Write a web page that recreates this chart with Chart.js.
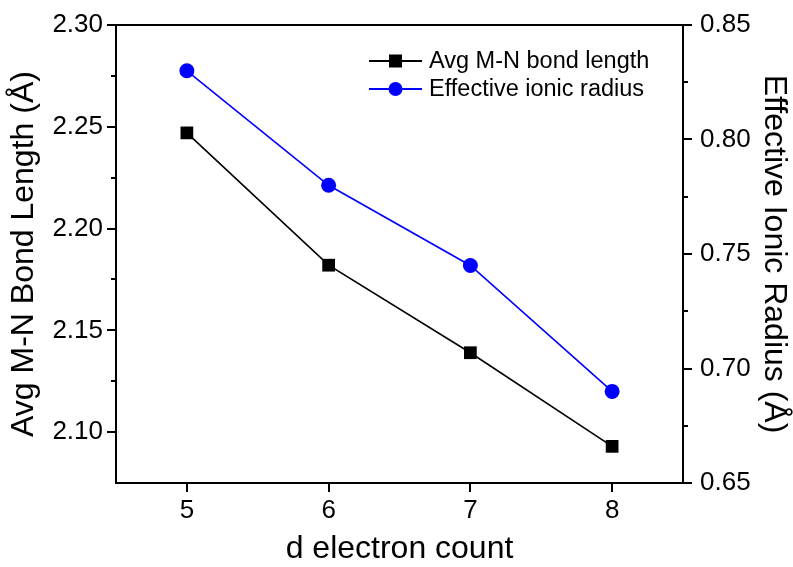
<!DOCTYPE html>
<html>
<head>
<meta charset="utf-8">
<script src="https://cdn.jsdelivr.net/npm/chart.js@4.4.0/dist/chart.umd.min.js"></script>
<style>
  html, body { margin: 0; padding: 0; background: #fff; }
  #wrap { width: 793px; height: 567px; }
</style>
</head>
<body>
<div id="wrap"><canvas id="chart" width="793" height="567"></canvas></div>
<script>
// data
const dCount = [5, 6, 7, 8];
const bondLength = [2.247, 2.182, 2.139, 2.093];
const ionicRadius = [0.830, 0.780, 0.745, 0.690];
const xTicks = [5, 6, 7, 8];
const bondTicks = [2.10, 2.15, 2.20, 2.25, 2.30];
const radiusTicks = [0.65, 0.70, 0.75, 0.80, 0.85];
const bondMinor = [2.125, 2.175, 2.225, 2.275];
const radiusMinor = [0.675, 0.725, 0.775, 0.825];
const seriesNames = ['Avg M-N bond length', 'Effective ionic radius'];

const FONT = '"Liberation Sans", Arial, sans-serif';

function pts(xs, ys) {
    return xs.map((x, i) => ({ x: x, y: ys[i] }));
}

// minor ticks, top frame line and the line-marker-line legend
const framePlugin = {
    id: 'frame',
    afterDraw(chart) {
        const ctx = chart.ctx;
        const area = chart.chartArea;
        const yl = chart.scales.y;
        const yr = chart.scales.y1;
        ctx.save();
        ctx.strokeStyle = '#000';
        ctx.lineWidth = 2;
        ctx.beginPath();
        ctx.moveTo(area.left - 1, area.top);
        ctx.lineTo(area.right + 1, area.top);
        bondMinor.forEach(v => {
            const y = Math.round(yl.getPixelForValue(v));
            ctx.moveTo(area.left, y);
            ctx.lineTo(area.left - 5, y);
        });
        radiusMinor.forEach(v => {
            const y = Math.round(yr.getPixelForValue(v));
            ctx.moveTo(area.right, y);
            ctx.lineTo(area.right + 5, y);
        });
        ctx.stroke();

        // legend
        const rows = [61, 89];
        chart.data.datasets.forEach((ds, i) => {
            const y = rows[i];
            ctx.strokeStyle = ds.borderColor;
            ctx.lineWidth = 2;
            ctx.beginPath();
            ctx.moveTo(369, y);
            ctx.lineTo(422, y);
            ctx.stroke();
            ctx.fillStyle = ds.pointBackgroundColor;
            if (ds.pointStyle === 'rect') {
                ctx.fillRect(389, y - 6.5, 13, 13);
            } else {
                ctx.beginPath();
                ctx.arc(395.5, y, 7, 0, Math.PI * 2);
                ctx.fill();
            }
            ctx.fillStyle = '#000';
            ctx.font = '23.5px ' + FONT;
            ctx.textBaseline = 'middle';
            ctx.textAlign = 'left';
            ctx.fillText(ds.label, 429, y + 1);
        });
        ctx.restore();
    }
};

const tickFont = { family: FONT, size: 26 };
const titleFont = { family: FONT, size: 32 };

new Chart(document.getElementById('chart'), {
    type: 'line',
    data: {
        datasets: [
            {
                label: seriesNames[0],
                data: pts(dCount, bondLength),
                yAxisID: 'y',
                borderColor: '#000',
                borderWidth: 1.6,
                pointStyle: 'rect',
                pointRadius: 9,
                pointBackgroundColor: '#000',
                pointBorderWidth: 0,
                tension: 0
            },
            {
                label: seriesNames[1],
                data: pts(dCount, ionicRadius),
                yAxisID: 'y1',
                borderColor: '#0000ff',
                borderWidth: 1.6,
                pointStyle: 'circle',
                pointRadius: 7.5,
                pointBackgroundColor: '#0000ff',
                pointBorderWidth: 0,
                tension: 0
            }
        ]
    },
    options: {
        responsive: false,
        animation: false,
        layout: { padding: { top: 25, left: 0, right: 0, bottom: 0 } },
        plugins: {
            legend: { display: false },
            tooltip: { enabled: false }
        },
        scales: {
            x: {
                type: 'linear',
                min: 4.5,
                max: 8.5,
                afterBuildTicks: s => { s.ticks = xTicks.map(v => ({ value: v })); },
                afterFit: s => { s.height = 84; },
                grid: { drawOnChartArea: false, tickLength: 9, color: '#000', lineWidth: 2 },
                border: { color: '#000', width: 2 },
                ticks: { font: tickFont, color: '#000', padding: 3, maxRotation: 0 },
                title: { display: true, text: 'd electron count', font: { family: FONT, size: 32, lineHeight: 1.1 }, color: '#000', padding: { top: 0, bottom: 0 } }
            },
            y: {
                position: 'left',
                min: 2.075,
                max: 2.30,
                afterBuildTicks: s => { s.ticks = bondTicks.map(v => ({ value: v })); },
                afterFit: s => { s.width = 116; },
                grid: { drawOnChartArea: false, tickLength: 9, color: '#000', lineWidth: 2 },
                border: { color: '#000', width: 2 },
                ticks: { font: tickFont, color: '#000', padding: 4, callback: v => v.toFixed(2) },
                title: { display: true, text: 'Avg M-N Bond Length (Å)', font: titleFont, color: '#000', padding: { top: 5, bottom: 0 } }
            },
            y1: {
                position: 'right',
                min: 0.65,
                max: 0.85,
                afterBuildTicks: s => { s.ticks = radiusTicks.map(v => ({ value: v })); },
                afterFit: s => { s.width = 110; },
                grid: { drawOnChartArea: false, tickLength: 9, color: '#000', lineWidth: 2 },
                border: { color: '#000', width: 2 },
                ticks: { font: tickFont, color: '#000', padding: 8, callback: v => v.toFixed(2) },
                title: { display: true, text: 'Effective Ionic Radius (Å)', font: titleFont, color: '#000', padding: { top: 0, bottom: 0 } }
            }
        }
    },
    plugins: [framePlugin]
});
</script>
</body>
</html>
